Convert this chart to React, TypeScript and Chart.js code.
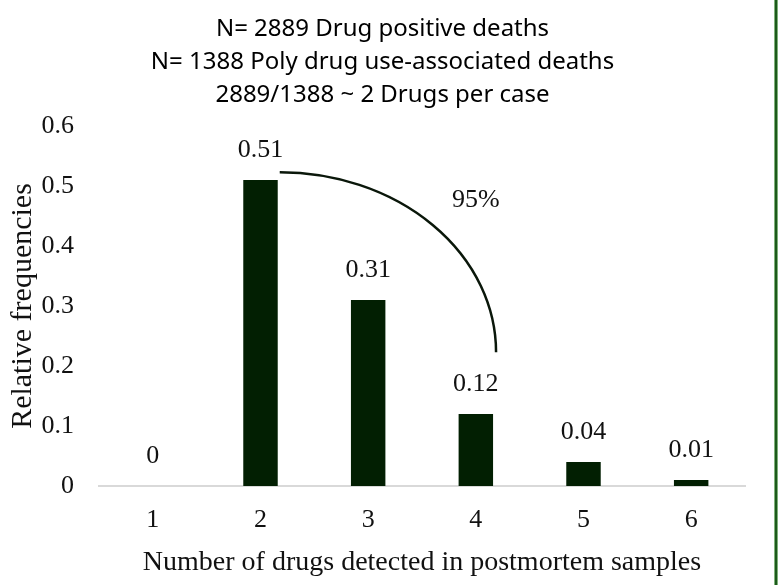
import React, { useEffect, useRef } from "react";
import { Chart, registerables } from "chart.js";

Chart.register(...registerables);

const categories = ["1", "2", "3", "4", "5", "6"];
const relativeFrequencies = [0, 0.51, 0.31, 0.12, 0.04, 0.01];
const yTickLabels = ["0", "0.1", "0.2", "0.3", "0.4", "0.5", "0.6"];
const titleLines = [
  "N= 2889 Drug positive deaths",
  "N= 1388 Poly drug use-associated deaths",
  "2889/1388 ~ 2 Drugs per case",
];
const xTitle = "Number of drugs detected in postmortem samples";
const yTitle = "Relative frequencies";
// bracket annotation: from bar "2" to bar "4", with its label
const arcFromCategory = 1;
const arcToCategory = 3;
const arcStartValue = 0.523;
const arcEndValue = 0.223;
const arcLabel = "95%";
const arcLabelCategory = 3;
const arcLabelValue = 0.477;

const SERIF = "'Liberation Serif', 'Times New Roman', serif";
const SANS = "'Noto Sans', 'Open Sans', sans-serif";

const labelPlugin = {
  id: "valueLabels",
  afterDatasetsDraw(chart: any) {
    const { ctx } = chart;
    const meta = chart.getDatasetMeta(0);
    const y0 = chart.scales.y;
    ctx.save();
    ctx.font = `26px ${SERIF}`;
    ctx.fillStyle = "#111";
    ctx.textAlign = "center";
    ctx.textBaseline = "middle";
    meta.data.forEach((bar: any, i: number) => {
      const v = relativeFrequencies[i];
      ctx.fillText(String(v), bar.x, y0.getPixelForValue(v) - 30);
    });

    // annotation arc (quarter ellipse)
    const b1 = meta.data[arcFromCategory];
    const b2 = meta.data[arcToCategory];
    const sx = b1.x + b1.width / 2 + 2;
    const ex = b2.x + b2.width / 2 + 3;
    const sy = y0.getPixelForValue(arcStartValue);
    const ey = y0.getPixelForValue(arcEndValue);
    ctx.beginPath();
    ctx.lineWidth = 2.5;
    ctx.strokeStyle = "#0a170a";
    ctx.ellipse(sx, ey, ex - sx, ey - sy, 0, -Math.PI / 2, 0);
    ctx.stroke();

    ctx.fillText(
      arcLabel,
      chart.scales.x.getPixelForValue(arcLabelCategory),
      y0.getPixelForValue(arcLabelValue)
    );
    ctx.restore();
  },
};

export default function App() {
  const ref = useRef<HTMLCanvasElement>(null);
  useEffect(() => {
    document.body.style.margin = "0";
    const chart = new Chart(ref.current as HTMLCanvasElement, {
      type: "bar",
      data: {
        labels: categories,
        datasets: [
          {
            data: relativeFrequencies,
            backgroundColor: "#021f02",
            categoryPercentage: 1,
            barPercentage: 0.32,
          },
        ],
      },
      options: {
        animation: false,
        responsive: false,
        layout: { padding: { left: 20, right: 35, top: 0, bottom: 0 } },
        plugins: {
          legend: { display: false },
          tooltip: { enabled: false },
          title: {
            display: true,
            text: titleLines,
            color: "#000",
            font: { family: SANS, size: 24, weight: "normal", lineHeight: 1.375 },
            padding: { top: 13, bottom: 14 },
          },
        },
        scales: {
          x: {
            afterFit: (s: any) => {
              s.height = 99;
            },
            grid: { display: false, drawTicks: false },
            border: { display: true, color: "#d9d9d9", width: 2 },
            ticks: { color: "#111", padding: 19, font: { family: SERIF, size: 26 } },
            title: {
              display: true,
              text: xTitle,
              color: "#111",
              font: { family: SERIF, size: 28, lineHeight: 1.2 },
              padding: { top: 0, bottom: 6 },
            },
          },
          y: {
            min: 0,
            max: 0.6,
            afterFit: (s: any) => {
              s.width = 79;
            },
            grid: { display: false, drawTicks: false },
            border: { display: false },
            ticks: {
              stepSize: 0.1,
              color: "#111",
              padding: 25,
              font: { family: SERIF, size: 26 },
              callback: (_v: any, i: number) => yTickLabels[i],
            },
            title: {
              display: true,
              text: yTitle,
              color: "#111",
              font: { family: SERIF, size: 30, lineHeight: 1.2 },
              padding: { top: -15, bottom: 0 },
            },
          },
        },
      },
      plugins: [labelPlugin],
    });
    return () => chart.destroy();
  }, []);
  return (
    <div style={{ position: "absolute", left: 0, top: 0, width: 780, height: 585, background: "#fff" }}>
      <canvas ref={ref} width={780} height={585} />
      <div
        style={{
          position: "absolute",
          left: 774,
          top: 0,
          width: 2,
          height: 585,
          background: "#1d5a1b",
          borderLeft: "1px solid #7fb27a",
          borderRight: "1px solid #7fb27a",
        }}
      />
    </div>
  );
}
